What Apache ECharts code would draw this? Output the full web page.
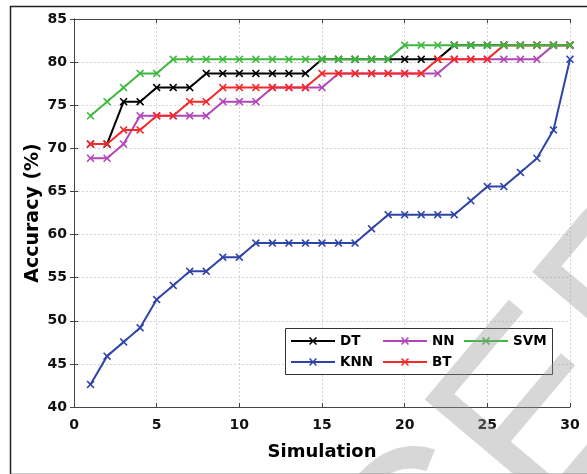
<!DOCTYPE html>
<html>
<head>
<meta charset="utf-8">
<script src="https://cdn.jsdelivr.net/npm/echarts@6/dist/echarts.min.js"></script>
<style>
  html, body { margin: 0; padding: 0; background: #fff; }
  #chart { width: 587px; height: 474px; }
</style>
</head>
<body>
<div id="chart"></div>
<script>
// simulation number on the x axis
const simulations = [1, 2, 3, 4, 5, 6, 7, 8, 9, 10, 11, 12, 13, 14, 15,
  16, 17, 18, 19, 20, 21, 22, 23, 24, 25, 26, 27, 28, 29, 30];

// accuracy (%) per classifier
const dtValues = [70.49, 70.49, 75.41, 75.41, 77.05, 77.05, 77.05, 78.69, 78.69, 78.69,
  78.69, 78.69, 78.69, 78.69, 80.33, 80.33, 80.33, 80.33, 80.33, 80.33,
  80.33, 80.33, 81.97, 81.97, 81.97, 81.97, 81.97, 81.97, 81.97, 81.97];
const knnValues = [42.62, 45.90, 47.54, 49.18, 52.46, 54.10, 55.74, 55.74, 57.38, 57.38,
  59.02, 59.02, 59.02, 59.02, 59.02, 59.02, 59.02, 60.66, 62.30, 62.30,
  62.30, 62.30, 62.30, 63.93, 65.57, 65.57, 67.21, 68.85, 72.13, 80.33];
const nnValues = [68.85, 68.85, 70.49, 73.77, 73.77, 73.77, 73.77, 73.77, 75.41, 75.41,
  75.41, 77.05, 77.05, 77.05, 77.05, 78.69, 78.69, 78.69, 78.69, 78.69,
  78.69, 78.69, 80.33, 80.33, 80.33, 80.33, 80.33, 80.33, 81.97, 81.97];
const btValues = [70.49, 70.49, 72.13, 72.13, 73.77, 73.77, 75.41, 75.41, 77.05, 77.05,
  77.05, 77.05, 77.05, 77.05, 78.69, 78.69, 78.69, 78.69, 78.69, 78.69,
  78.69, 80.33, 80.33, 80.33, 80.33, 81.97, 81.97, 81.97, 81.97, 81.97];
const svmValues = [73.77, 75.41, 77.05, 78.69, 78.69, 80.33, 80.33, 80.33, 80.33, 80.33,
  80.33, 80.33, 80.33, 80.33, 80.33, 80.33, 80.33, 80.33, 80.33, 81.97,
  81.97, 81.97, 81.97, 81.97, 81.97, 81.97, 81.97, 81.97, 81.97, 81.97];

const seriesNames = ['DT', 'KNN', 'NN', 'BT', 'SVM'];
const seriesColors = ['#000000', '#2f44a8', '#b246b8', '#f42a2a', '#3fb83f'];
const seriesValues = [dtValues, knnValues, nnValues, btValues, svmValues];

const FONT = '"DejaVu Sans", Arial, sans-serif';
const CROSS = 'path://M0,1.4L1.4,0L5,3.6L8.6,0L10,1.4L6.4,5L10,8.6L8.6,10L5,6.4L1.4,10L0,8.6L3.6,5Z';

const chart = echarts.init(document.getElementById('chart'), null, { renderer: 'canvas' });

// legend laid out as MATLAB does: 3 columns, filled column by column
const legendSpots = {
  DT: [290, 334], KNN: [290, 355],
  NN: [382, 334], BT: [382, 355],
  SVM: [463, 334]
};

const hiddenAxis = {
  axisLabel: { show: false },
  axisLine: { show: true, lineStyle: { color: '#444', width: 1 } },
  axisTick: { show: true, inside: true, length: 4, lineStyle: { color: '#444' } },
  splitLine: { show: false }
};

const option = {
  backgroundColor: '#fff',
  animation: false,
  grid: { left: 74, right: 17, top: 19, bottom: 67, containLabel: false },
  xAxis: [{
    type: 'value',
    min: 0, max: 30, interval: 5,
    name: 'Simulation',
    nameLocation: 'middle',
    nameGap: 36,
    nameTextStyle: { fontFamily: FONT, fontWeight: 'bold', fontSize: 18, color: '#000' },
    axisLine: { show: true, onZero: false, lineStyle: { color: '#444', width: 1 } },
    axisTick: { show: true, inside: true, length: 4, lineStyle: { color: '#444' } },
    axisLabel: { fontFamily: FONT, fontWeight: 'bold', fontSize: 14, color: '#111', margin: 11 },
    splitLine: { show: true, lineStyle: { color: '#d4d4d4', type: [2, 2], width: 1 } }
  }, Object.assign({
    type: 'value', position: 'top', min: 0, max: 30, interval: 5
  }, hiddenAxis)],
  yAxis: [{
    type: 'value',
    min: 40, max: 85, interval: 5,
    name: 'Accuracy (%)',
    nameLocation: 'middle',
    nameGap: 31,
    nameMoveOverlap: false,
    nameTextStyle: { fontFamily: FONT, fontWeight: 'bold', fontSize: 19, color: '#000' },
    axisLine: { show: true, onZero: false, lineStyle: { color: '#444', width: 1 } },
    axisTick: { show: true, inside: true, length: 4, lineStyle: { color: '#444' } },
    axisLabel: { fontFamily: FONT, fontWeight: 'bold', fontSize: 14, color: '#111', margin: 7 },
    splitLine: { show: true, lineStyle: { color: '#d4d4d4', type: [2, 2], width: 1 } }
  }, Object.assign({
    type: 'value', position: 'right', min: 40, max: 85, interval: 5
  }, hiddenAxis)],
  legend: seriesNames.map(name => ({
    data: [name],
    left: legendSpots[name][0],
    top: legendSpots[name][1],
    padding: 0,
    itemWidth: 44,
    itemHeight: 10,
    itemGap: 0,
    selectedMode: false,
    textStyle: { fontFamily: FONT, fontWeight: 'bold', fontSize: 13.5, color: '#000' },
    z: 5
  })),
  graphic: [
    // outer figure frame (right side runs off the crop)
    {
      type: 'rect', left: 8, top: 4, z: 0,
      shape: { width: 620, height: 468 },
      style: { fill: 'none', stroke: '#222', lineWidth: 1.5 }
    },
    // legend box
    {
      type: 'rect', left: 285, top: 328, z: 4,
      shape: { width: 267, height: 46 },
      style: { fill: '#fff', stroke: '#333', lineWidth: 1 }
    },
    // faint diagonal watermark
    {
      type: 'text', x: 150, y: 885, rotation: 0.87, z: 10, silent: true,
      style: {
        text: 'ACCEPTED', fontFamily: '"Liberation Sans", Arial, sans-serif', fontSize: 250,
        fill: 'rgba(150,150,150,0.38)', align: 'left', verticalAlign: 'middle'
      }
    }
  ],
  series: seriesNames.map((name, i) => ({
    name,
    type: 'line',
    data: simulations.map((s, j) => [s, seriesValues[i][j]]),
    symbol: CROSS,
    symbolSize: 8,
    showSymbol: true,
    color: seriesColors[i],
    lineStyle: { width: 2, color: seriesColors[i] },
    itemStyle: { color: seriesColors[i] },
    z: 2 + i * 0.01
  }))
};

chart.setOption(option);
</script>
</body>
</html>
